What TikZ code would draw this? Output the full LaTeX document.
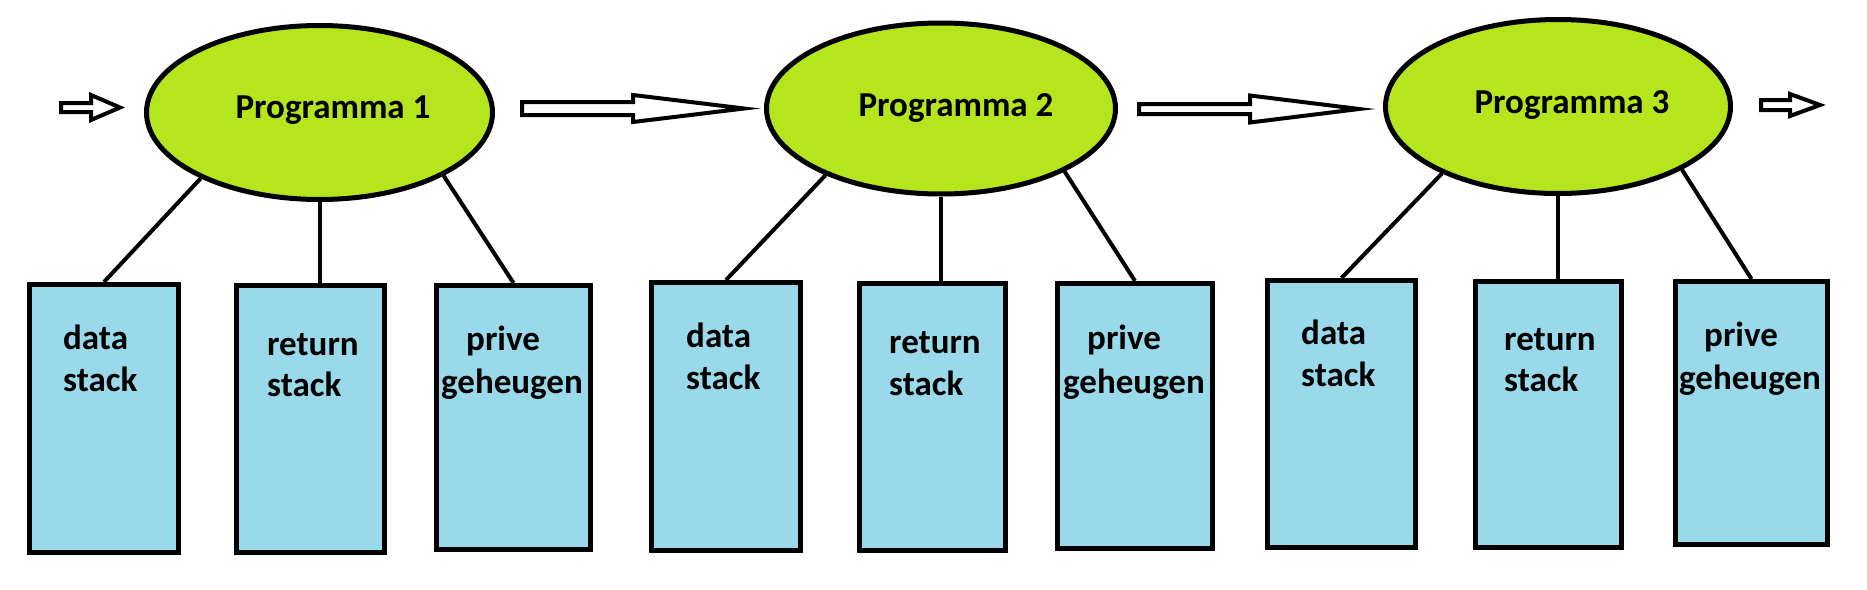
\documentclass[tikz,border=0pt]{standalone}
\usepackage{fontspec}
\setmainfont{Carlito}
\usetikzlibrary{shapes.geometric}
\definecolor{proglime}{RGB}{181,230,29}
\definecolor{memblue}{RGB}{153,217,234}
\begin{document}
\begin{tikzpicture}[x=1pt,y=-1pt,
  prog/.style={ellipse, draw=black, line width=5pt, fill=proglime, inner sep=0pt},
  mem/.style={rectangle, draw=black, line width=5pt, fill=memblue, inner sep=0pt},
  lbl/.style={font=\fontsize{35}{42}\selectfont\bfseries, inner sep=0pt, anchor=base west},
  plbl/.style={font=\fontsize{35}{42}\selectfont\bfseries, inner sep=0pt, anchor=base},
  link/.style={line width=4pt},
  blockarrow/.style={draw=black, fill=white, line width=4pt, line join=miter}]
\useasboundingbox[fill=white] (0,0) rectangle (1867,589);

% block arrows
\draw[blockarrow] (61,103) -- (91,103) -- (91,95) -- (120,107.5) -- (91,120) -- (91,112) -- (61,112) -- cycle;
\draw[blockarrow] (522,102) -- (633,102) -- (633,95) -- (744,108.5) -- (633,122) -- (633,115) -- (522,115) -- cycle;
\draw[blockarrow] (1139,104) -- (1250,104) -- (1250,95.5) -- (1359,109) -- (1250,122.5) -- (1250,114) -- (1139,114) -- cycle;
\draw[blockarrow] (1761,100) -- (1790,100) -- (1790,94) -- (1820,105) -- (1790,116) -- (1790,110) -- (1761,110) -- cycle;

% programs
\node[prog, minimum width=346pt, minimum height=174pt] (e1) at (319.5,112.5) {};
\node[prog, minimum width=349pt, minimum height=171pt] (e2) at (941,108.5) {};
\node[prog, minimum width=345pt, minimum height=174pt] (e3) at (1558,106.5) {};
\node[plbl] (p1) at (333,118) {Programma 1};
\node[plbl] (p2) at (956,116) {Programma 2};
\node[plbl] (p3) at (1572,113) {Programma 3};

% memories
\node[mem, minimum width=149pt, minimum height=268pt] (b1) at (104,418.5) {};
\node[mem, minimum width=148pt, minimum height=267pt] (b2) at (310.5,419) {};
\node[mem, minimum width=154pt, minimum height=264pt] (b3) at (513.5,417.5) {};
\node[mem, minimum width=149pt, minimum height=268pt] (b4) at (726,416.5) {};
\node[mem, minimum width=146pt, minimum height=267pt] (b5) at (932.5,417) {};
\node[mem, minimum width=155pt, minimum height=265pt] (b6) at (1135,416) {};
\node[mem, minimum width=148pt, minimum height=267pt] (b7) at (1341.5,414) {};
\node[mem, minimum width=146pt, minimum height=266pt] (b8) at (1548.5,414.5) {};
\node[mem, minimum width=152pt, minimum height=263pt] (b9) at (1751.5,413) {};

% links
\draw[link] (e1.209) -- (b1.north);
\draw[link] (e1.south) -- (e1.south |- b2.north);
\draw[link] (e1.333) -- (b3.north);
\draw[link] (e2.210) -- (b4.north);
\draw[link] (e2.south) -- (e2.south |- b5.north);
\draw[link] (e2.333) -- (b6.north);
\draw[link] (e3.210) -- (b7.north);
\draw[link] (e3.south) -- (e3.south |- b8.north);
\draw[link] (e3.333) -- (b9.north);

% labels
\node[lbl] (t1a) at (63,349) {data};
\node[lbl] (t1b) at (63,391) {stack};
\node[lbl] (t2a) at (267,355) {return};
\node[lbl] (t2b) at (267,396) {stack};
\node[lbl] (t3a) at (466,350) {prive};
\node[lbl] (t3b) at (441,393) {geheugen};
\node[lbl] (t4a) at (686,347) {data};
\node[lbl] (t4b) at (686,389) {stack};
\node[lbl] (t5a) at (889,353) {return};
\node[lbl] (t5b) at (889,395) {stack};
\node[lbl] (t6a) at (1087,349) {prive};
\node[lbl] (t6b) at (1063,393) {geheugen};
\node[lbl] (t7a) at (1301,344) {data};
\node[lbl] (t7b) at (1301,386) {stack};
\node[lbl] (t8a) at (1504,350) {return};
\node[lbl] (t8b) at (1504,391) {stack};
\node[lbl] (t9a) at (1704,346) {prive};
\node[lbl] (t9b) at (1679,389) {geheugen};
\end{tikzpicture}
\end{document}
